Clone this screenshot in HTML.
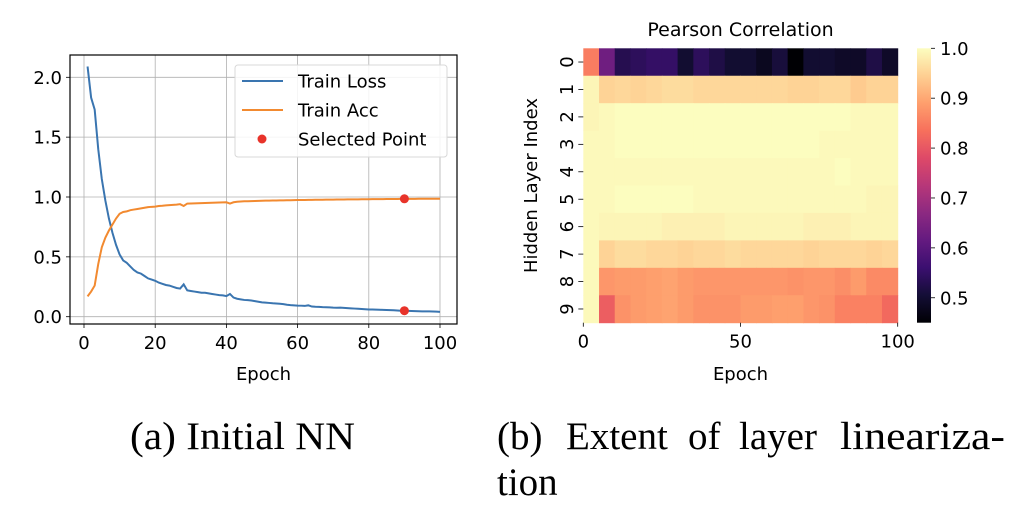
<!DOCTYPE html>
<html><head><meta charset="utf-8"><style>
html,body{margin:0;padding:0;background:#fff;}
svg{display:block;}
text{font-family:"DejaVu Sans","Liberation Sans",sans-serif;}
.cap{font-family:"Liberation Serif",serif;font-size:39px;fill:#000;}
</style></head><body>
<svg id="fig" width="1034" height="516" viewBox="0 0 1034 516" xmlns="http://www.w3.org/2000/svg">
<g id="left"></g>
<g id="right"></g>
<text class="cap" x="130" y="449" textLength="225" lengthAdjust="spacingAndGlyphs">(a) Initial NN</text>
<g>
<text class="cap" x="497" y="449">(b)</text>
<text class="cap" x="566" y="449">Extent</text>
<text class="cap" x="688" y="449">of</text>
<text class="cap" x="739" y="449">layer</text>
<text class="cap" x="840" y="449" textLength="165" lengthAdjust="spacingAndGlyphs">lineariza-</text>
</g>
<text class="cap" x="497" y="495">tion</text>
</svg>
<script>
const epochs = Array.from({length:100},(_,i)=>i+1);
const trainLoss = [2.09,1.83,1.73,1.40,1.15,0.97,0.82,0.70,0.60,0.52,0.47,0.45,0.42,0.39,0.37,0.36,0.34,0.32,0.31,0.30,
0.285,0.275,0.265,0.26,0.25,0.24,0.235,0.27,0.22,0.215,0.21,0.205,0.20,0.20,0.195,0.19,0.185,0.18,0.178,0.172,0.19,0.16,0.15,0.145,0.14,0.138,0.135,0.13,0.125,0.12,
0.118,0.115,0.112,0.11,0.108,0.105,0.10,0.097,0.095,0.093,0.092,0.09,0.095,0.085,0.083,0.082,0.08,0.079,0.078,0.076,0.075,0.076,0.074,0.072,0.07,0.068,0.066,0.064,0.062,0.06,
0.06,0.059,0.058,0.057,0.056,0.055,0.054,0.052,0.05,0.05,0.049,0.048,0.047,0.046,0.045,0.045,0.044,0.043,0.042,0.04];
const trainAcc = [0.17,0.21,0.26,0.44,0.58,0.66,0.72,0.77,0.82,0.86,0.875,0.88,0.89,0.895,0.90,0.905,0.91,0.915,0.918,0.92,
0.925,0.927,0.93,0.932,0.934,0.936,0.94,0.925,0.945,0.946,0.947,0.948,0.949,0.95,0.951,0.952,0.953,0.954,0.955,0.956,0.945,0.956,0.96,0.962,0.964,0.965,0.966,0.967,0.968,0.969,
0.97,0.97,0.971,0.971,0.972,0.972,0.973,0.973,0.974,0.975,0.975,0.975,0.976,0.976,0.977,0.977,0.977,0.978,0.978,0.978,0.979,0.979,0.979,0.98,0.98,0.98,0.98,0.981,0.981,0.981,
0.982,0.982,0.982,0.982,0.983,0.983,0.983,0.983,0.984,0.984,0.984,0.984,0.984,0.985,0.985,0.985,0.985,0.985,0.985,0.985];
const selectedEpoch = 90;
const selectedLoss = 0.05;
const selectedAcc = 0.985;
const xTicks = [0,20,40,60,80,100];
const yTicks = [0.0,0.5,1.0,1.5,2.0];

const heatEpochs = [0,5,10,15,20,25,30,35,40,45,50,55,60,65,70,75,80,85,90,95];
const layers = [0,1,2,3,4,5,6,7,8,9];
const corr = [
[0.85,0.63,0.53,0.54,0.55,0.55,0.50,0.54,0.52,0.50,0.50,0.48,0.51,0.45,0.50,0.50,0.49,0.49,0.52,0.49],
[0.99,0.95,0.955,0.95,0.955,0.96,0.96,0.955,0.955,0.955,0.955,0.955,0.955,0.95,0.95,0.955,0.955,0.94,0.95,0.95],
[0.99,0.995,1.0,1.0,1.0,1.0,1.0,1.0,1.0,1.0,1.0,1.0,1.0,1.0,1.0,1.0,1.0,0.995,0.995,0.995],
[0.995,0.995,1.0,1.0,1.0,1.0,1.0,1.0,1.0,1.0,1.0,1.0,1.0,1.0,1.0,0.995,0.995,0.995,0.995,0.995],
[0.995,0.995,0.995,0.995,0.995,0.995,0.995,0.995,0.995,0.995,0.995,0.995,0.995,0.995,0.995,0.995,1.0,0.995,0.995,0.995],
[0.995,0.995,1.0,1.0,1.0,1.0,1.0,0.995,0.995,0.995,0.995,0.995,0.995,0.995,0.995,0.995,0.995,0.995,0.99,0.99],
[0.995,0.99,0.99,0.99,0.99,0.985,0.985,0.985,0.985,0.99,0.99,0.99,0.99,0.99,0.985,0.985,0.985,0.99,0.99,0.99],
[0.995,0.95,0.96,0.96,0.955,0.955,0.95,0.955,0.955,0.96,0.955,0.955,0.955,0.955,0.95,0.955,0.955,0.955,0.95,0.955],
[0.995,0.88,0.885,0.885,0.89,0.895,0.885,0.88,0.88,0.88,0.88,0.88,0.88,0.875,0.88,0.88,0.87,0.885,0.865,0.865],
[0.995,0.81,0.875,0.885,0.89,0.895,0.885,0.875,0.875,0.875,0.885,0.885,0.89,0.89,0.88,0.875,0.855,0.855,0.855,0.825]
];
const cbTicks = [0.5,0.6,0.7,0.8,0.9,1.0];
const hxTicks = [0,50,100];

const NS="http://www.w3.org/2000/svg";
function mk(tag,attrs,parent,txt){const e=document.createElementNS(NS,tag);for(const k in attrs)e.setAttribute(k,attrs[k]);if(txt!==undefined)e.textContent=txt;parent.appendChild(e);return e;}
const FS=18;

// Left chart
const L=document.getElementById('left');
const ax0=70,ax1=457,ay0=55,ay1=324;
const sx=v=>84+(v-0)*(440-84)/100;
const sy=v=>316.7-v*(316.7-77.3)/2.0;
xTicks.forEach(t=>{
  const g=mk('line',{x1:sx(t),x2:sx(t),y1:ay0,y2:ay1,stroke:'#b0b0b0','stroke-width':0.8},L);
  
  
  mk('line',{x1:sx(t),x2:sx(t),y1:ay1,y2:ay1+4,stroke:'#000','stroke-width':0.8},L);
  const tx=mk('text',{x:sx(t),y:ay1+25,'text-anchor':'middle','font-size':FS,fill:'#000'},L,String(t));
  
  
});
yTicks.forEach(t=>{
  const g=mk('line',{x1:ax0,x2:ax1,y1:sy(t),y2:sy(t),stroke:'#b0b0b0','stroke-width':0.8},L);
  
  
  mk('line',{x1:ax0-4,x2:ax0,y1:sy(t),y2:sy(t),stroke:'#000','stroke-width':0.8},L);
  const tx=mk('text',{x:ax0-8,y:sy(t)+6.5,'text-anchor':'end','font-size':FS,fill:'#000'},L,t.toFixed(1));
  
  
});
const lossPath=mk('polyline',{points:epochs.map((e,i)=>sx(e)+','+sy(trainLoss[i])).join(' '),fill:'none',stroke:'#3a75b0','stroke-width':2},L);


const accPath=mk('polyline',{points:epochs.map((e,i)=>sx(e)+','+sy(trainAcc[i])).join(' '),fill:'none',stroke:'#f28a30','stroke-width':2},L);


[selectedLoss,selectedAcc].forEach(v=>{
  const c=mk('circle',{cx:sx(selectedEpoch),cy:sy(v),r:4.5,fill:'#e8332a'},L);
  
  
});
mk('rect',{x:ax0,y:ay0,width:ax1-ax0,height:ay1-ay0,fill:'none',stroke:'#000','stroke-width':1.2},L);
const xl=mk('text',{x:(ax0+ax1)/2,y:380,'text-anchor':'middle','font-size':FS,fill:'#000'},L,'Epoch');


// legend
const lg=mk('g',{},L);


mk('rect',{x:235,y:65,width:212,height:92,rx:3,fill:'#fff','fill-opacity':0.85,stroke:'#d8d8d8'},lg);
const legItems=[['Train Loss','#3a75b0','line',81],['Train Acc','#f28a30','line',110],['Selected Point','#e8332a','dot',139]];
legItems.forEach(it=>{
  const g=mk('g',{},lg);
  
  
  if(it[2]==='line')mk('line',{x1:242,x2:283,y1:it[3],y2:it[3],stroke:it[1],'stroke-width':2},g);
  else mk('circle',{cx:262,cy:it[3],r:4.5,fill:it[1]},g);
  mk('text',{x:298,y:it[3]+6.5,'font-size':FS,fill:'#000'},g,it[0]);
});

// Heatmap
const R=document.getElementById('right');
const hx0=583.3,hx1=897.7,hy0=48.3,hy1=322.7;
const hsx=v=>hx0+v*(hx1-hx0)/100;
const cellH=(hy1-hy0)/layers.length;
const magma=[[0,0,4],[20,14,54],[59,15,112],[100,26,128],[140,41,129],[183,55,121],[222,73,104],[247,112,92],[254,159,109],[254,207,146],[252,253,191]];
const vmin=0.45,vmax=1.0;
function cmap(v){let t=(v-vmin)/(vmax-vmin);t=Math.max(0,Math.min(1,t))*10;const i=Math.min(9,Math.floor(t));const f=t-i;const a=magma[i],b=magma[i+1];return 'rgb('+a.map((c,k)=>Math.round(c+(b[k]-c)*f)).join(',')+')';}
layers.forEach((l,r)=>{
  heatEpochs.forEach((e,c)=>{
    const cell=mk('rect',{x:hsx(e),y:hy0+r*cellH,width:hsx(5)-hsx(0)+0.5,height:cellH+0.5,fill:cmap(corr[r][c])},R);
    
    
  });
  const cy=hy0+(r+0.5)*cellH;
  mk('line',{x1:hx0-5,x2:hx0,y1:cy,y2:cy,stroke:'#000','stroke-width':0.8},R);
  const t=mk('text',{x:0,y:0,'text-anchor':'middle','font-size':FS,fill:'#000',transform:'translate('+(hx0-16)+','+cy+') rotate(-90)','dominant-baseline':'central'},R,String(l));
  
  
});
hxTicks.forEach(t=>{
  mk('line',{x1:hsx(t),x2:hsx(t),y1:hy1,y2:hy1+4,stroke:'#000','stroke-width':0.8},R);
  const tx=mk('text',{x:hsx(t),y:hy1+25,'text-anchor':'middle','font-size':FS,fill:'#000'},R,String(t));
  
  
});
const ht=mk('text',{x:(hx0+hx1)/2,y:36,'text-anchor':'middle','font-size':19,fill:'#000'},R,'Pearson Correlation');


const hxl=mk('text',{x:(hx0+hx1)/2,y:380,'text-anchor':'middle','font-size':FS,fill:'#000'},R,'Epoch');


const hyl=mk('text',{x:0,y:0,'text-anchor':'middle','font-size':FS,fill:'#000',transform:'translate(537,'+((hy0+hy1)/2)+') rotate(-90)'},R,'Hidden Layer Index');


// colorbar
const cbx=917,cbw=14,cby0=hy0,cby1=hy1;
const defs=mk('defs',{},R);
const grad=mk('linearGradient',{id:'cbg',x1:0,y1:1,x2:0,y2:0},defs);
for(let i=0;i<=10;i++){mk('stop',{offset:i/10,'stop-color':'rgb('+magma[i].join(',')+')'},grad);}
const cb=mk('rect',{x:cbx,y:cby0,width:cbw,height:cby1-cby0,fill:'url(#cbg)'},R);


const csy=v=>cby1-(v-vmin)/(vmax-vmin)*(cby1-cby0);
cbTicks.forEach(t=>{
  mk('line',{x1:cbx+cbw,x2:cbx+cbw+4,y1:csy(t),y2:csy(t),stroke:'#000','stroke-width':0.8},R);
  const tx=mk('text',{x:cbx+cbw+9,y:csy(t)+6.5,'font-size':FS,fill:'#000'},R,t.toFixed(1));
  
  
});
</script>
</body></html>
